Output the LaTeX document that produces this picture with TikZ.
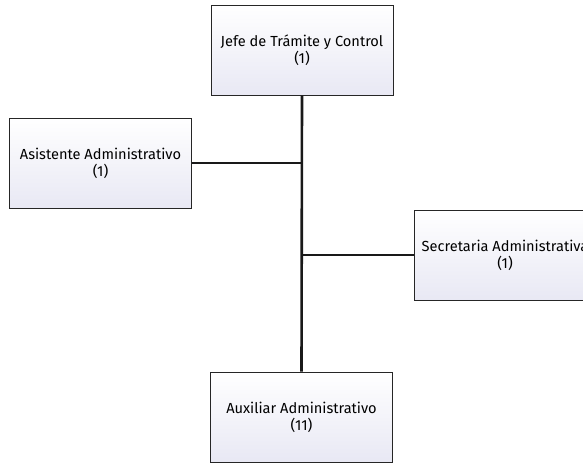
\documentclass[tikz,border=0pt]{standalone}
\usepackage{fontspec}
\setmainfont{Fira Sans}
\usetikzlibrary{positioning}
\definecolor{lavanda}{RGB}{232,232,244}
\tikzset{
    puesto/.style={draw=black!85, line width=1pt, minimum width=182pt, minimum height=90pt,
        align=center, top color=white, bottom color=lavanda, font=\fontsize{14.6}{17}\selectfont},
    enlace/.style={line width=2.6pt, black!90}
}

\begin{document}
\begin{tikzpicture}[x=1pt, y=-1pt]
    \useasboundingbox (0,0) rectangle (583,466);
    \clip (0,0) rectangle (583,466);
    \node[puesto] (jefe) at (302,50) {Jefe de Trámite y Control\\(1)};
    \node[puesto] (asist) at (100.5,163) {Asistente Administrativo\\(1)};
    \node[puesto] (secre) at (505,255) {Secretaria Administrativa\\(1)};
    \node[puesto] (aux) at (301.5,417) {Auxiliar Administrativo\\(11)};
    \draw[enlace] (jefe.south) -- (aux.north);
    \draw[enlace] (asist.east) -- (asist.east -| jefe.south);
    \draw[enlace] (secre.west) -- (secre.west -| jefe.south);
\end{tikzpicture}
\end{document}
